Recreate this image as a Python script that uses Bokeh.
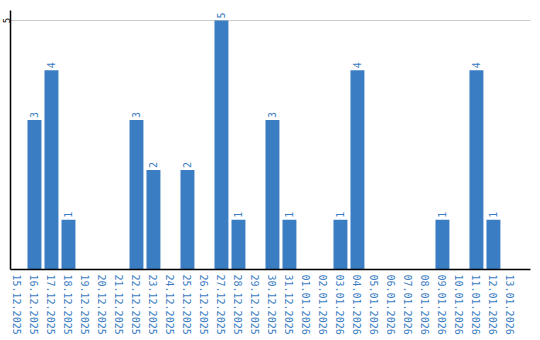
from bokeh.plotting import figure
from bokeh.models import ColumnDataSource, Range1d, FixedTicker
from bokeh.embed import file_html
from bokeh.resources import INLINE
from bokeh.core.properties import value
import math

dates = ["15.12.2025", "16.12.2025", "17.12.2025", "18.12.2025", "19.12.2025",
         "20.12.2025", "21.12.2025", "22.12.2025", "23.12.2025", "24.12.2025",
         "25.12.2025", "26.12.2025", "27.12.2025", "28.12.2025", "29.12.2025",
         "30.12.2025", "31.12.2025", "01.01.2026", "02.01.2026", "03.01.2026",
         "04.01.2026", "05.01.2026", "06.01.2026", "07.01.2026", "08.01.2026",
         "09.01.2026", "10.01.2026", "11.01.2026", "12.01.2026", "13.01.2026"]
counts = [0, 3, 4, 1, 0, 0, 0, 3, 2, 0, 2, 0, 5, 1, 0, 3, 1, 0, 0, 1, 4, 0, 0, 0, 0, 1, 0, 4, 1, 0]
y_ticks = [5]

BLUE = "#3b7dc2"
FONT = "DejaVu Sans Mono"

xpos = [i + 0.5 for i in range(len(dates))]
src = ColumnDataSource(dict(x=xpos, y=counts))
nz = [i for i, c in enumerate(counts) if c > 0]
lsrc = ColumnDataSource(dict(x=[xpos[i] for i in nz], y=[counts[i] for i in nz],
                             lbl=[str(counts[i]) for i in nz]))

p = figure(width=540, height=340, output_backend="svg", toolbar_location=None,
           x_range=Range1d(0.09, 30.68), y_range=Range1d(0, 5.2),
           min_border_left=0, min_border_right=10, min_border_top=10, min_border_bottom=71)
p.outline_line_color = None
p.background_fill_color = "white"

p.vbar(x="x", top="y", width=0.82, source=src, fill_color=BLUE, line_color=None)
p.text(x="x", y="y", text="lbl", source=lsrc, angle=math.pi / 2, text_align="left",
       text_baseline="middle", y_offset=-2, text_color=BLUE, text_font_size="10px",
       text_font=value(FONT))

p.xgrid.grid_line_color = None
p.ygrid.grid_line_color = "#cccccc"
p.ygrid.ticker = FixedTicker(ticks=y_ticks)

for ax in (p.xaxis, p.yaxis):
    ax.major_tick_line_color = None
    ax.minor_tick_line_color = None
    ax.major_tick_out = 0
    ax.major_tick_in = 0
    ax.minor_tick_out = 0
    ax.minor_tick_in = 0
    ax.major_label_orientation = "vertical"
    ax.major_label_text_font = FONT
    ax.axis_line_color = "black"
    ax.axis_line_width = 1.5

p.yaxis.ticker = FixedTicker(ticks=y_ticks)
p.yaxis.major_label_text_font_size = "9px"
p.yaxis.major_label_text_color = "black"
p.yaxis.major_label_standoff = 0

p.xaxis.ticker = FixedTicker(ticks=xpos)
p.xaxis.major_label_overrides = {x: d for x, d in zip(xpos, dates)}
p.xaxis.major_label_text_font_size = "10px"
p.xaxis.major_label_text_color = BLUE
p.xaxis.major_label_standoff = 5

open("out.html", "w").write(file_html(p, INLINE))
